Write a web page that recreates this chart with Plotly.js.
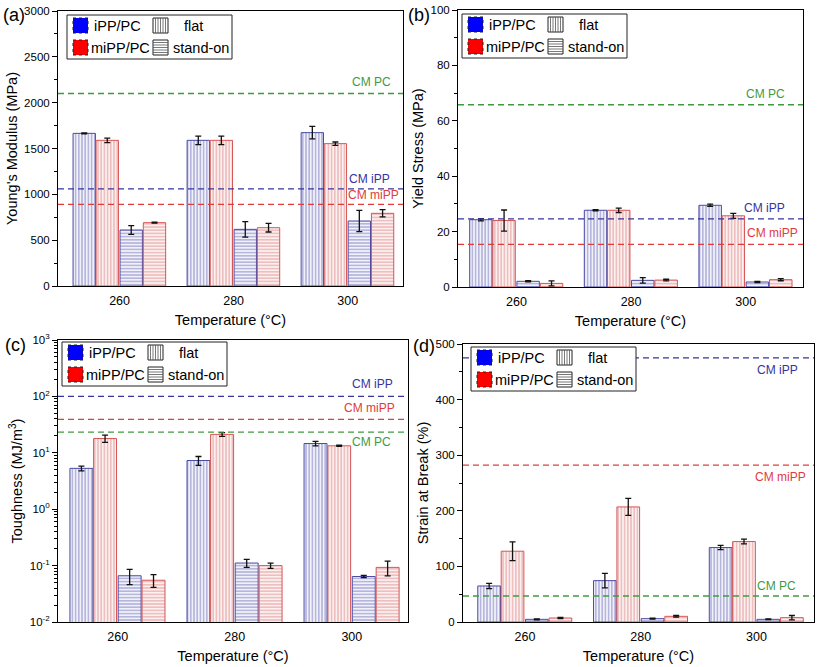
<!DOCTYPE html>
<html>
<head>
<meta charset="utf-8">
<script src="https://cdn.plot.ly/plotly-3.0.1.min.js"></script>
<style>html,body{margin:0;padding:0;background:#fff;}#chart{width:817px;height:667px;}</style>
</head>
<body>
<div id="chart"></div>
<script>
// ---------------- data ----------------
const temps = ['260', '280', '300'];

// (a) Young's modulus (MPa)
const ymIppFlat = [1665, 1589, 1673];
const ymIppFlatErr = [5, 47, 69];
const ymMippFlat = [1589, 1589, 1553];
const ymMippFlatErr = [25, 47, 18];
const ymIppStand = [611, 618, 709];
const ymIppStandErr = [47, 85, 115];
const ymMippStand = [691, 636, 793];
const ymMippStandErr = [6, 47, 40];
const ymCM = [2100, 1060, 890];          // CM PC, CM iPP, CM miPP

// (b) Yield stress (MPa)
const ysIppFlat = [24.3, 27.7, 29.5];
const ysIppFlatErr = [0.4, 0.2, 0.4];
const ysMippFlat = [24.0, 27.7, 25.7];
const ysMippFlatErr = [3.8, 0.8, 0.9];
const ysIppStand = [2.05, 2.4, 1.8];
const ysIppStandErr = [0.2, 1.0, 0.2];
const ysMippStand = [1.3, 2.5, 2.65];
const ysMippStandErr = [0.9, 0.3, 0.4];
const ysCM = [65.8, 24.6, 15.4];

// (c) Toughness (MJ/m3)
const tgIppFlat = [5.3, 7.3, 14.6];
const tgIppFlatErr = [0.5, 1.3, 1.3];
const tgMippFlat = [17.9, 21.2, 13.3];
const tgMippFlatErr = [2.6, 1.6, 0.3];
const tgIppStand = [0.066, 0.111, 0.064];
const tgIppStandErr = [0.02, 0.018, 0.003];
const tgMippStand = [0.055, 0.100, 0.093];
const tgMippStandErr = [0.014, 0.011, 0.027];
const tgCM = [23.3, 100, 39];

// (d) Strain at break (%)
const sbIppFlat = [64.8, 74.4, 133.9];
const sbIppFlatErr = [4.8, 13.2, 3.9];
const sbMippFlat = [127.3, 207, 144.7];
const sbMippFlatErr = [16.8, 15.3, 4.2];
const sbIppStand = [4.8, 6.0, 4.8];
const sbIppStandErr = [1.0, 1.0, 0.6];
const sbMippStand = [7.2, 10.2, 7.8];
const sbMippStandErr = [1.0, 1.5, 3.9];
const sbCM = [46.8, 475, 282];

const cmNames = ['CM PC', 'CM iPP', 'CM miPP'];
const legendNames = ['iPP/PC', 'miPP/PC', 'flat', 'stand-on'];
const logTickVals = [0.01, 0.1, 1, 10, 100, 1000];
const logTickText = ['10<sup>-2</sup>', '10<sup>-1</sup>', '10<sup>0</sup>', '10<sup>1</sup>', '10<sup>2</sup>', '10<sup>3</sup>'];

// ---------------- styling ----------------
const W = 817, H = 667;
const FONT = 'Liberation Sans, Arial, Helvetica, sans-serif';
const BLUE = {line: '#4a4aa4', fg: '#8f8fca', bg: '#f1f1fa'};
const RED = {line: '#d65555', fg: '#e39f9f', bg: '#fcefef'};
const cmColors = ['#3f9a3f', '#34349e', '#e03c3c'];
const offsets = [-0.408, -0.206, 0.004, 0.208];
const barWidth = 0.196;

const panels = [
  {id: '', L: 58, R: 403, T: 11, B: 286, xr: [-0.54, 2.485], label: '(a)', lx: 1, ly: 15,
   series: [[ymIppFlat, ymIppFlatErr], [ymMippFlat, ymMippFlatErr], [ymIppStand, ymIppStandErr], [ymMippStand, ymMippStandErr]],
   cm: ymCM, cmPos: [[0.971, 12], [0.968, 10], [0.995, 9]],
   ytitle: "Young's Modulus (MPa)", yr: [0, 3000], dtick: 500, minor: 250, leg: [67, 15]},
  {id: '2', L: 458, R: 803, T: 10, B: 287, xr: [-0.51, 2.5], label: '(b)', lx: 406, ly: 15,
   series: [[ysIppFlat, ysIppFlatErr], [ysMippFlat, ysMippFlatErr], [ysIppStand, ysIppStandErr], [ysMippStand, ysMippStandErr]],
   cm: ysCM, cmPos: [[0.953, 11], [0.955, 11], [0.99, 11]],
   ytitle: 'Yield Stress (MPa)', yr: [0, 100], dtick: 20, minor: 10, leg: [462, 14]},
  {id: '3', L: 58, R: 408, T: 340, B: 622, xr: [-0.51, 2.48], label: '(c)', lx: 3, ly: 345, log: true,
   series: [[tgIppFlat, tgIppFlatErr], [tgMippFlat, tgMippFlatErr], [tgIppStand, tgIppStandErr], [tgMippStand, tgMippStandErr]],
   cm: tgCM, cmPos: [[0.957, -10], [0.963, 12], [0.969, 11]],
   ytitle: 'Toughness (MJ/m<sup>3</sup>)', leg: [62, 342]},
  {id: '4', L: 463, R: 814, T: 344, B: 622, xr: [-0.536, 2.497], label: '(d)', lx: 411, ly: 346,
   series: [[sbIppFlat, sbIppFlatErr], [sbMippFlat, sbMippFlatErr], [sbIppStand, sbIppStandErr], [sbMippStand, sbMippStandErr]],
   cm: sbCM, cmPos: [[0.954, 10], [0.96, -12], [0.983, -12]],
   ytitle: 'Strain at Break (%)', yr: [0, 500], dtick: 100, minor: 50, leg: [471, 347]}
];

const styles = [
  {c: BLUE, shape: '|'}, {c: RED, shape: '|'}, {c: BLUE, shape: '-'}, {c: RED, shape: '-'}
];

const px = x => x / W;
const py = y => 1 - y / H;

const traces = [];
const shapes = [];
const annotations = [];
const layout = {
  width: W, height: H,
  margin: {l: 0, r: 0, t: 0, b: 0},
  paper_bgcolor: '#fff', plot_bgcolor: '#fff',
  font: {family: FONT, color: '#000'},
  showlegend: false,
  barmode: 'overlay'
};

panels.forEach(p => {
  const xa = 'x' + p.id, ya = 'y' + p.id;
  p.series.forEach((s, i) => {
    const st = styles[i];
    traces.push({
      type: 'bar', x: temps, y: s[0], xaxis: xa, yaxis: ya,
      width: barWidth, offset: offsets[i],
      marker: {
        color: st.c.bg,
        line: {color: st.c.line, width: 1},
        pattern: {shape: st.shape, fgcolor: st.c.fg, bgcolor: st.c.bg, size: 3.2, solidity: 0.3}
      },
      error_y: {type: 'data', array: s[1], visible: true, color: '#111', thickness: 1.3, width: 3},
      hoverinfo: 'y'
    });
  });

  const xkey = 'xaxis' + p.id, ykey = 'yaxis' + p.id;
  layout[xkey] = {
    domain: [px(p.L), px(p.R)], anchor: ya, type: 'category', range: p.xr,
    showline: true, mirror: true, linecolor: '#000', linewidth: 1,
    ticks: '', showgrid: false, zeroline: false, fixedrange: true,
    tickfont: {size: 12.5, family: FONT}, ticklabelstandoff: 3,
    title: {text: 'Temperature (°C)', font: {size: 14.5, family: FONT}, standoff: 7}
  };
  const y = {
    domain: [py(p.B), py(p.T)], anchor: xa,
    showline: true, mirror: true, linecolor: '#000', linewidth: 1,
    ticks: 'outside', ticklen: 5, tickwidth: 1, tickcolor: '#000',
    showgrid: false, zeroline: false, fixedrange: true,
    tickfont: {size: 11.5, family: FONT},
    title: {text: p.ytitle, font: {size: 14.5, family: FONT}, standoff: 3}
  };
  if (p.log) {
    Object.assign(y, {type: 'log', range: [-2, 3], tickmode: 'array', tickvals: logTickVals, ticktext: logTickText,
      minor: {dtick: 'D1', ticks: 'outside', ticklen: 3, tickcolor: '#000', showgrid: false}});
  } else {
    Object.assign(y, {range: p.yr, dtick: p.dtick, tick0: 0,
      minor: {dtick: p.minor, ticks: 'outside', ticklen: 3, tickcolor: '#000', showgrid: false}});
  }
  layout[ykey] = y;

  // CM reference lines + labels
  p.cm.forEach((v, k) => {
    shapes.push({type: 'line', xref: xa + ' domain', yref: ya, x0: 0, x1: 1, y0: v, y1: v,
      line: {color: cmColors[k], width: 1.3, dash: '6px,4px'}, layer: 'above'});
    annotations.push({xref: xa + ' domain', yref: ya, x: p.cmPos[k][0], y: p.log ? Math.log10(v) : v,
      xanchor: 'right', yanchor: 'middle', yshift: p.cmPos[k][1], showarrow: false,
      text: cmNames[k], font: {size: 12, color: cmColors[k], family: FONT}});
  });

  // panel label
  annotations.push({xref: 'paper', yref: 'paper', x: px(p.lx), y: py(p.ly), xanchor: 'left', yanchor: 'middle',
    showarrow: false, text: p.label, font: {size: 18, family: FONT, color: '#000'}});

  // legend box (drawn as decoration)
  const L = p.leg[0], T = p.leg[1];
  const rect = (x0, y0, x1, y1, fill, line) => shapes.push({type: 'rect', xref: 'paper', yref: 'paper',
    x0: px(L + x0), x1: px(L + x1), y0: py(T + y1), y1: py(T + y0), fillcolor: fill, line: line, layer: 'above'});
  const seg = (x0, y0, x1, y1) => shapes.push({type: 'line', xref: 'paper', yref: 'paper',
    x0: px(L + x0), x1: px(L + x1), y0: py(T + y0), y1: py(T + y1), line: {color: '#555', width: 0.8}, layer: 'above'});
  rect(0, 0, 165, 44, '#fff', {color: '#222', width: 1});
  rect(6, 3, 21, 18, '#0000ff', {color: '#222', width: 1, dash: 'dot'});
  rect(6, 25, 21, 40, '#ff0000', {color: '#222', width: 1, dash: 'dot'});
  rect(86, 3, 101, 18, '#fff', {color: '#222', width: 1});
  rect(86, 25, 101, 40, '#fff', {color: '#222', width: 1});
  for (let k = 1; k < 6; k++) {
    seg(86 + 2.5 * k, 3, 86 + 2.5 * k, 18);
    seg(86, 25 + 2.5 * k, 101, 25 + 2.5 * k);
  }
  const legTxt = [[legendNames[0], 26, 11], [legendNames[1], 23, 33], [legendNames[2], 116, 11], [legendNames[3], 105, 33]];
  legTxt.forEach(t => annotations.push({xref: 'paper', yref: 'paper', x: px(L + t[1]), y: py(T + t[2]),
    xanchor: 'left', yanchor: 'middle', showarrow: false, text: t[0], borderpad: 0,
    font: {size: 14.5, family: FONT, color: '#000'}}));
});

layout.shapes = shapes;
layout.annotations = annotations;

Plotly.newPlot('chart', traces, layout, {displayModeBar: false, staticPlot: true});
</script>
</body>
</html>
